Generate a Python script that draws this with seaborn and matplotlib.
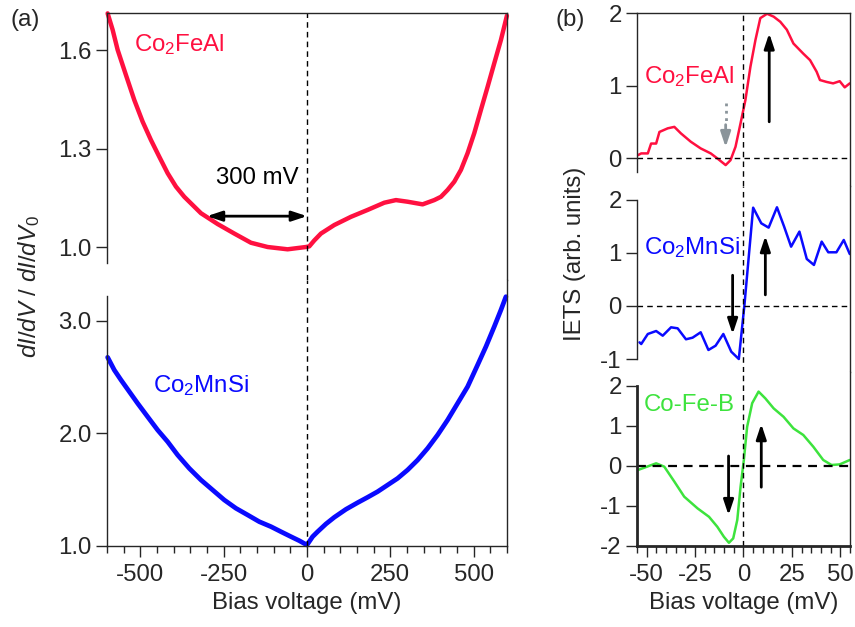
"""
Tunneling spectra: normalized dI/dV (a) and IETS (b) for three electrodes.
"""

import matplotlib
matplotlib.use("Agg")
import matplotlib.pyplot as plt
import pandas as pd
import seaborn as sns

# ---- panel (a): normalized conductance ----
fe_al_bias = [-598, -583, -568, -543, -518, -493, -468, -443, -418, -393, -368, -343,
              -318, -268, -218, -168, -118, -58, -3, 7, 22, 42, 82, 132, 182, 232,
              267, 302, 347, 382, 402, 422, 442, 462, 482, 502, 522, 542, 562, 582,
              600]
fe_al_cond = [1.712, 1.662, 1.601, 1.524, 1.448, 1.382, 1.326, 1.275, 1.225, 1.184,
              1.153, 1.128, 1.103, 1.070, 1.041, 1.013, 1.000, 0.993, 1.000, 1.002,
              1.020, 1.041, 1.067, 1.092, 1.113, 1.135, 1.143, 1.138, 1.130, 1.143,
              1.153, 1.174, 1.199, 1.235, 1.286, 1.347, 1.418, 1.488, 1.560, 1.631,
              1.705]

mn_si_bias = [-598, -578, -558, -533, -508, -478, -448, -418, -388, -353, -318, -283,
              -248, -213, -178, -143, -108, -78, -48, -23, 0, 17, 32, 57, 82, 117,
              152, 182, 212, 242, 272, 302, 332, 362, 392, 422, 452, 482, 512, 537,
              562, 582, 597]
mn_si_cond = [2.677, 2.564, 2.476, 2.372, 2.268, 2.149, 2.031, 1.927, 1.809, 1.690,
              1.587, 1.498, 1.409, 1.335, 1.276, 1.216, 1.172, 1.127, 1.083, 1.047,
              1.009, 1.083, 1.127, 1.196, 1.255, 1.326, 1.385, 1.433, 1.483, 1.542,
              1.601, 1.676, 1.764, 1.868, 1.987, 2.120, 2.268, 2.416, 2.609, 2.772,
              2.950, 3.098, 3.216]

# ---- panel (b): IETS ----
fe_al_iets_bias = [-54.5, -52.8, -49.4, -47.7, -45.1, -43.4, -39.1, -35.7, -32.3,
                   -27.2, -22.1, -16.9, -13.5, -9.2, -6.7, -4.1, -1.5, 1.0, 3.6, 6.2,
                   8.7, 12.2, 15.6, 19.0, 22.4, 25.8, 30.9, 34.4, 37.8, 39.5, 42.9,
                   46.3, 49.7, 52.3, 54.9]
fe_al_iets = [0.04, 0.064, 0.064, 0.20, 0.20, 0.36, 0.41, 0.43, 0.34, 0.225, 0.133,
              0.064, -0.005, -0.097, -0.03, 0.156, 0.48, 0.80, 1.26, 1.63, 1.93, 1.99,
              1.95, 1.88, 1.77, 1.58, 1.44, 1.35, 1.19, 1.076, 1.05, 1.03, 1.06, 0.975,
              1.03]

mn_si_iets_bias = [-53.7, -52.8, -49.4, -45.1, -41.7, -37.4, -34.0, -29.7, -26.3,
                   -22.1, -18.1, -14.4, -10.4, -6.3, -2.4, 0.5, 5.0, 9.2, 13.0, 17.3,
                   21.0, 24.6, 28.9, 32.7, 36.4, 40.4, 43.8, 48.0, 51.8, 54.9]
mn_si_iets = [-0.686, -0.717, -0.528, -0.472, -0.56, -0.402, -0.421, -0.628, -0.598,
              -0.496, -0.83, -0.749, -0.528, -0.862, -1.0, 0.019, 1.855, 1.56, 1.478,
              1.862, 1.497, 1.119, 1.403, 0.887, 0.774, 1.214, 1.013, 1.013, 1.245, 0.98]

cofeb_bias = [-54.5, -51.1, -45.1, -40.9, -35.7, -30.6, -23.7, -17.8, -13.5, -10.1,
              -7.5, -5.3, -3.2, -1.5, 0.2, 1.9, 4.5, 7.8, 11.3, 15.6, 20.7, 25.8,
              30.9, 36.1, 41.2, 45.5, 49.7, 54.9]
cofeb_iets = [-0.1, -0.04, 0.067, -0.017, -0.39, -0.767, -1.06, -1.27, -1.52, -1.77,
              -1.92, -1.81, -1.35, -0.52, 0.15, 0.98, 1.57, 1.86, 1.69, 1.44, 1.23,
              0.94, 0.775, 0.48, 0.15, 0.025, 0.04, 0.15]

RED = "#ff1040"
BLUE = "#0a0aff"
GREEN = "#3de33d"
GRAY = "#8a949a"
FS = 17.3

sns.set_style("ticks")
plt.rcParams["font.family"] = ["Liberation Sans", "DejaVu Sans"]
plt.rcParams["mathtext.fontset"] = "custom"
plt.rcParams["mathtext.rm"] = "Liberation Sans"
plt.rcParams["mathtext.it"] = "Liberation Sans:italic"
plt.rcParams["axes.unicode_minus"] = False
plt.rcParams["axes.linewidth"] = 1.0
plt.rcParams["xtick.major.width"] = 1.0
plt.rcParams["ytick.major.width"] = 1.0
plt.rcParams["xtick.minor.width"] = 1.0


def style_axis(ax, xlim, ylim, spine_lo, spine_hi, ticks, top=False, bottom=False):
    ax.set_xlim(*xlim)
    ax.set_ylim(*ylim)
    ax.spines["left"].set_bounds(spine_lo, spine_hi)
    ax.spines["top"].set_visible(top)
    ax.spines["bottom"].set_visible(bottom)
    ax.spines["right"].set_visible(True)
    ax.set_yticks(ticks)
    ax.tick_params(axis="y", direction="out", length=8, labelsize=FS, pad=3)
    ax.tick_params(axis="x", direction="out", length=8, labelsize=FS, pad=5)
    ax.tick_params(axis="x", which="minor", direction="out", length=5)
    if not bottom:
        ax.tick_params(axis="x", which="both", bottom=False, labelbottom=False)
    ax.set_xlabel("")
    ax.set_ylabel("")
    ax.grid(False)


def draw_arrow(ax, x, y_from, y_to, color="black"):
    ax.annotate("", xy=(x, y_to), xytext=(x, y_from),
                arrowprops=dict(arrowstyle="-|>,head_length=0.9,head_width=0.3",
                                color=color, lw=2, shrinkA=0, shrinkB=0))


fig = plt.figure(figsize=(8.55, 6.27), dpi=100)

# panel (a)
ax_a1 = fig.add_axes([0.1251, 0.5534, 0.4678, 0.4258])
ax_a2 = fig.add_axes([0.1251, 0.1292, 0.4678, 0.4242])

sns.lineplot(x=fe_al_bias, y=fe_al_cond, ax=ax_a1, color=RED, lw=3.2, clip_on=False)
sns.lineplot(x=mn_si_bias, y=mn_si_cond, ax=ax_a2, color=BLUE, lw=3.4, clip_on=False)

style_axis(ax_a1, (-600, 600), (0.8994, 1.713), 0.95, 1.713, [1.0, 1.3, 1.6], top=True)
style_axis(ax_a2, (-600, 600), (1.0, 3.364), 1.0, 3.22, [1.0, 2.0, 3.0], bottom=True)
ax_a1.set_yticklabels(["1.0", "1.3", "1.6"])
ax_a2.set_yticklabels(["1.0", "2.0", "3.0"])
ax_a2.set_xticks([-500, -250, 0, 250, 500])
ax_a2.set_xticks(range(-600, 601, 50), minor=True)
ax_a2.set_xlabel("Bias voltage (mV)", fontsize=FS, labelpad=4)

for ax in (ax_a1, ax_a2):
    ax.axvline(0, color="black", lw=1.0, ls=(0, (4, 3)))

ax_a1.text(-519, 1.616, "Co$_2$FeAl", color=RED, fontsize=FS, ha="left", va="center")
ax_a1.text(-150, 1.21, "300 mV", color="black", fontsize=FS, ha="center", va="center")
ax_a1.annotate("", xy=(0, 1.094), xytext=(-300, 1.094),
               arrowprops=dict(arrowstyle="<|-|>,head_length=0.9,head_width=0.3",
                               color="black", lw=2, shrinkA=0, shrinkB=0))
ax_a2.text(-462, 2.43, "Co$_2$MnSi", color=BLUE, fontsize=FS, ha="left", va="center")

fig.text(0.034, 1 - 287 / 627, "$dI/dV$ / $dI/dV_0$", rotation=90,
         fontsize=FS, ha="center", va="center")
fig.text(0.012, 1 - 20 / 627, "(a)", fontsize=FS, ha="left", va="center")

# panel (b)
ax_b1 = fig.add_axes([0.745, 0.7033, 0.2491, 0.2759])
ax_b2 = fig.add_axes([0.745, 0.4067, 0.2491, 0.2967])
ax_b3 = fig.add_axes([0.745, 0.1292, 0.2491, 0.2775])

sns.lineplot(x=fe_al_iets_bias, y=fe_al_iets, ax=ax_b1, color=RED, lw=1.8)
sns.lineplot(x=mn_si_iets_bias, y=mn_si_iets, ax=ax_b2, color=BLUE, lw=1.8)
sns.lineplot(x=cofeb_bias, y=cofeb_iets, ax=ax_b3, color=GREEN, lw=1.8)

style_axis(ax_b1, (-55, 55), (-0.386, 2.0), -0.19, 2.0, [0, 1, 2], top=True)
style_axis(ax_b2, (-55, 55), (-1.245, 2.264), -1.0, 2.0, [-1, 0, 1, 2])
style_axis(ax_b3, (-55, 55), (-2.0, 2.35), -2.0, 2.0, [-2, -1, 0, 1, 2], bottom=True)
ax_b3.set_xticks([-50, -25, 0, 25, 50])
ax_b3.set_xticks(range(-55, 56, 5), minor=True)
ax_b3.set_xlabel("Bias voltage (mV)", fontsize=FS, labelpad=4)
ax_b3.spines["left"].set_linewidth(2)
ax_b3.spines["bottom"].set_linewidth(2)

for ax, lw in ((ax_b1, 1.0), (ax_b2, 1.0), (ax_b3, 1.6)):
    ax.axvline(0, color="black", lw=1.0, ls=(0, (4, 3)))
    ax.axhline(0, color="black", lw=lw, ls=(0, (4, 3)))

ax_b1.text(-51.6, 1.12, "Co$_2$FeAl", color=RED, fontsize=FS, ha="left", va="center")
ax_b2.text(-51.6, 1.11, "Co$_2$MnSi", color=BLUE, fontsize=FS, ha="left", va="center")
ax_b3.text(-51.6, 1.52, "Co-Fe-B", color=GREEN, fontsize=FS, ha="left", va="center")

draw_arrow(ax_b1, 13.3, 0.5, 1.72)
ax_b1.plot([-9.2, -9.2], [0.76, 0.45], color=GRAY, lw=2, ls=":")
draw_arrow(ax_b1, -9.2, 0.46, 0.15, color=GRAY)
draw_arrow(ax_b2, -5.6, 0.58, -0.53)
draw_arrow(ax_b2, 11.3, 0.21, 1.32)
draw_arrow(ax_b3, -7.7, 0.25, -1.23)
draw_arrow(ax_b3, 9.2, -0.53, 1.05)

fig.text(575 / 855, 1 - 254 / 627, "IETS (arb. units)", rotation=90,
         fontsize=FS, ha="center", va="center")
fig.text(555 / 855, 1 - 20 / 627, "(b)", fontsize=FS, ha="left", va="center")

fig.savefig("out.png", dpi=100)
